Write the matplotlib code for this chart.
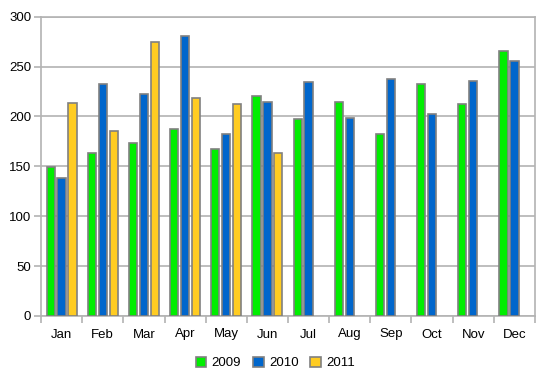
import matplotlib
matplotlib.use("Agg")
import matplotlib.pyplot as plt
import numpy as np

months = ["Jan", "Feb", "Mar", "Apr", "May", "Jun", "Jul", "Aug", "Sep", "Oct", "Nov", "Dec"]
s2009 = [149, 163, 173, 187, 167, 221, 197, 215, 182, 233, 212, 266]
s2010 = [138, 233, 223, 281, 182, 215, 235, 198, 238, 202, 236, 256]
s2011 = [213, 185, 275, 219, 212, 163, None, None, None, None, None, None]
series_names = ["2009", "2010", "2011"]
colors = ["#00ee00", "#0066cc", "#ffcc22"]
yticks = [0, 50, 100, 150, 200, 250, 300]

plt.rcParams['font.family'] = ['Liberation Sans', 'DejaVu Sans']
fig = plt.figure(figsize=(5.51, 3.85), dpi=100)
ax = fig.add_axes([41/551, 1-316/385, (535-41)/551, (316-16.7)/385])

x = np.arange(len(months))
offsets = [-0.265, 0.0, 0.265]
width = 0.2
grid_c = "#b3b3b3"
for data, off, col, name in zip([s2009, s2010, s2011], offsets, colors, series_names):
    xs = [xi + off for xi, v in zip(x, data) if v is not None]
    vs = [v for v in data if v is not None]
    ax.bar(xs, vs, width=width, color=col, edgecolor="#808080", linewidth=1.2,
           label=name, zorder=3)

ax.set_xlim(-0.5, len(months) - 0.5)
ax.set_ylim(0, 300)
ax.set_yticks(yticks)
ax.set_yticklabels([str(t) for t in yticks], fontsize=9.5, color="#000000")
ax.set_xticks(x)
ax.set_xticklabels(months, fontsize=9.5)
ax.set_xticks(np.arange(-0.5, len(months)), minor=True)
ax.tick_params(axis='x', which='major', length=0, pad=9)
ax.tick_params(axis='x', which='minor', length=5, color=grid_c, width=1.2)
ax.tick_params(axis='y', length=5, color=grid_c, width=1.2, pad=2)
ax.yaxis.grid(True, color=grid_c, linewidth=1.2, zorder=0)
ax.set_axisbelow(True)
for sp in ax.spines.values():
    sp.set_color(grid_c)
    sp.set_linewidth(1.2)

leg = fig.legend(loc="center", bbox_to_anchor=(0.5, 1-363/385), ncol=3, frameon=False,
                 fontsize=9.5, handlelength=0.8, handleheight=0.8, handletextpad=0.4,
                 columnspacing=0.9)

fig.savefig("out.png", dpi=100)
